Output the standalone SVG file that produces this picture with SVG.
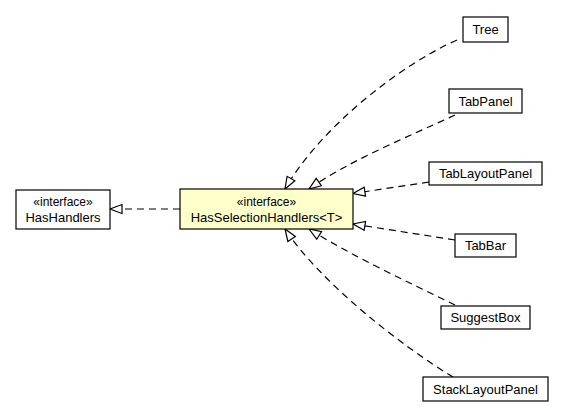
<svg xmlns="http://www.w3.org/2000/svg" width="564" height="419" viewBox="0 0 564 419">
<style>
.box{fill:#fff;stroke:#000;stroke-width:1.2}
.iface{fill:#ffffcc;stroke:#000;stroke-width:1.2}
text{font-family:"Liberation Sans",Arial,Helvetica,sans-serif;font-size:13px;fill:#000;text-anchor:middle}
.st{font-size:12px}
.edge{fill:none;stroke:#000;stroke-width:1.2;stroke-dasharray:7,5;marker-end:url(#tri)}
</style>
<defs>
<marker id="tri" markerWidth="15" markerHeight="12" refX="13" refY="6" orient="auto" markerUnits="userSpaceOnUse">
<path d="M1,1.5 L13,6 L1,10.5 Z" fill="#fff" stroke="#000" stroke-width="1.2" stroke-dasharray="none"/>
</marker>
</defs>
<rect width="564" height="419" fill="#fff"/>
<g id="connectors">
<path class="edge" d="M180,209 L110,209"/>
<path class="edge" d="M457,40 C400,65 320,128 285,189"/>
<path class="edge" d="M455,115 C410,136 350,160 309,189"/>
<path class="edge" d="M429,182 L353,193.5"/>
<path class="edge" d="M455,240 L353,224"/>
<path class="edge" d="M455,305 C410,283 350,255 309,229"/>
<path class="edge" d="M453,377 C400,345 320,282 285,229"/>
</g>
<g id="HasHandlers">
<rect class="box" x="16" y="190" width="94" height="39"/>
<text class="st" x="63" y="205.5">«interface»</text>
<text x="63" y="222">HasHandlers</text>
</g>
<g id="HasSelectionHandlers">
<rect class="iface" x="180" y="189" width="173" height="40"/>
<text class="st" x="266.5" y="205.5">«interface»</text>
<text x="266.5" y="222">HasSelectionHandlers&lt;T&gt;</text>
</g>
<g id="Tree">
<rect class="box" x="463" y="17" width="45" height="25"/>
<text x="485.5" y="34">Tree</text>
</g>
<g id="TabPanel">
<rect class="box" x="449" y="89" width="73" height="24"/>
<text x="485.5" y="106">TabPanel</text>
</g>
<g id="TabLayoutPanel">
<rect class="box" x="429" y="162" width="113" height="23"/>
<text x="485.5" y="178">TabLayoutPanel</text>
</g>
<g id="TabBar">
<rect class="box" x="455" y="234" width="61" height="23"/>
<text x="485.5" y="250">TabBar</text>
</g>
<g id="SuggestBox">
<rect class="box" x="441" y="306" width="89" height="23"/>
<text x="485.5" y="322">SuggestBox</text>
</g>
<g id="StackLayoutPanel">
<rect class="box" x="423" y="377" width="125" height="24"/>
<text x="485.5" y="394">StackLayoutPanel</text>
</g>
</svg>
